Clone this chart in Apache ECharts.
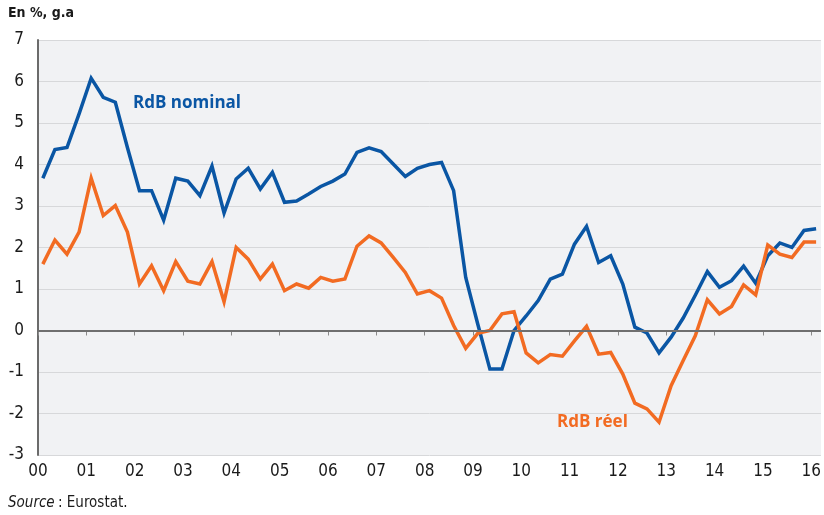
<!DOCTYPE html>
<html>
<head>
<meta charset="utf-8">
<script src="https://cdn.jsdelivr.net/npm/echarts@6/dist/echarts.min.js"></script>
<style>
  html, body { margin: 0; padding: 0; background: #fff; }
  #chart { width: 824px; height: 515px; }
</style>
</head>
<body>
<div id="chart"></div>
<script>
// libellés des années (axe x)
const years = ['00', '01', '02', '03', '04', '05', '06', '07', '08', '09', '10', '11', '12', '13', '14', '15', '16']

// RdB nominal, trimestriel, 2000T1 -> 2016T1
const rdbNominal = [
  3.67, 4.36, 4.41, 5.22, 6.08, 5.62, 5.5, 4.41, 3.37, 3.37, 2.66, 3.67,
  3.6, 3.25, 3.96, 2.83, 3.65, 3.91, 3.41, 3.81, 3.09, 3.12, 3.29, 3.47,
  3.6, 3.77, 4.29, 4.4, 4.31, 4.01, 3.71, 3.91, 4.0, 4.05, 3.37, 1.28,
  0.15, -0.93, -0.93, 0.0, 0.35, 0.72, 1.24, 1.36, 2.08, 2.51, 1.64, 1.8,
  1.12, 0.08, -0.06, -0.54, -0.16, 0.3, 0.85, 1.42, 1.04, 1.2, 1.55, 1.14,
  1.8, 2.11, 2.0, 2.41, 2.45
]

// RdB réel
const rdbReel = [
  1.6, 2.18, 1.84, 2.37, 3.67, 2.77, 3.01, 2.37, 1.12, 1.56, 0.96, 1.66,
  1.19, 1.12, 1.66, 0.69, 2.0, 1.72, 1.24, 1.6, 0.96, 1.12, 1.02, 1.28,
  1.19, 1.24, 2.03, 2.28, 2.11, 1.76, 1.4, 0.88, 0.96, 0.78, 0.12, -0.43,
  -0.07, 0.0, 0.4, 0.45, -0.54, -0.78, -0.58, -0.62, -0.25, 0.1, -0.57, -0.53,
  -1.05, -1.75, -1.89, -2.21, -1.33, -0.72, -0.13, 0.74, 0.4, 0.58, 1.1, 0.86,
  2.06, 1.84, 1.76, 2.13, 2.13
]

const BLUE = '#0a56a4'
const ORANGE = '#f26b22'
const FONT = "'Liberation Sans Narrow', 'DejaVu Sans Condensed', sans-serif"

// trimestre i -> position en années depuis 2000
const toPoints = (arr) => arr.map((v, i) => [i / 4 + 0.1, v])

const myChart = echarts.init(document.getElementById('chart'))

const option = {
  animation: false,
  textStyle: { fontFamily: FONT },
  grid: {
    left: 38,
    right: 2,
    top: 40,
    bottom: 60,
    show: true,
    backgroundColor: '#f1f2f4',
    borderWidth: 0
  },
  xAxis: {
    type: 'value',
    min: 0,
    max: 16.2,
    interval: 1,
    axisLine: { show: false },
    axisTick: { show: true, length: 5, lineStyle: { color: '#8a8a8a', width: 1 } },
    splitLine: { show: false },
    axisLabel: {
      showMaxLabel: false,
      color: '#1a1a1a',
      fontSize: 17,
      margin: 8,
      fontFamily: FONT,
      formatter: (v) => (Number.isInteger(v) ? years[v] : '')
    }
  },
  yAxis: {
    type: 'value',
    min: -3,
    max: 7,
    interval: 1,
    axisLine: { show: true, lineStyle: { color: '#6b6b6b', width: 2 } },
    axisTick: { show: false },
    splitLine: { show: true, lineStyle: { color: '#d7d8da', width: 1 } },
    axisLabel: {
      color: '#1a1a1a',
      fontSize: 17,
      margin: 14,
      fontFamily: FONT
    }
  },
  series: [
    // ligne du zéro
    {
      type: 'line',
      data: [],
      silent: true,
      markLine: {
        silent: true,
        symbol: 'none',
        label: { show: false },
        lineStyle: { color: '#6f6f6f', width: 2, type: 'solid' },
        data: [{ yAxis: 0 }]
      }
    },
    {
      name: 'RdB nominal',
      type: 'line',
      data: toPoints(rdbNominal),
      showSymbol: false,
      lineStyle: { color: BLUE, width: 3.5, join: 'miter' },
      itemStyle: { color: BLUE }
    },
    {
      name: 'RdB réel',
      type: 'line',
      data: toPoints(rdbReel),
      showSymbol: false,
      lineStyle: { color: ORANGE, width: 3.5, join: 'miter' },
      itemStyle: { color: ORANGE }
    }
  ],
  graphic: [
    {
      type: 'text',
      left: 8,
      top: 6,
      style: { text: 'En %, g.a', font: "bold 14px 'DejaVu Sans Condensed', sans-serif", fill: '#1a1a1a' }
    },
    {
      type: 'text',
      left: 133,
      top: 95,
      style: { text: 'RdB nominal', font: "bold 17px 'Open Sans', sans-serif", fill: BLUE }
    },
    {
      type: 'text',
      left: 557,
      top: 414,
      style: { text: 'RdB réel', font: "bold 17px 'Open Sans', sans-serif", fill: ORANGE }
    },
    {
      type: 'text',
      left: 8,
      top: 496,
      style: {
        rich: {
          i: { fontStyle: 'italic', fontSize: 15, fontFamily: FONT, fill: '#1a1a1a' },
          n: { fontSize: 15, fontFamily: FONT, fill: '#1a1a1a' }
        },
        text: '{i|Source} {n|: Eurostat.}'
      }
    }
  ]
}

myChart.setOption(option)
window.addEventListener('resize', () => myChart.resize())
</script>
</body>
</html>
